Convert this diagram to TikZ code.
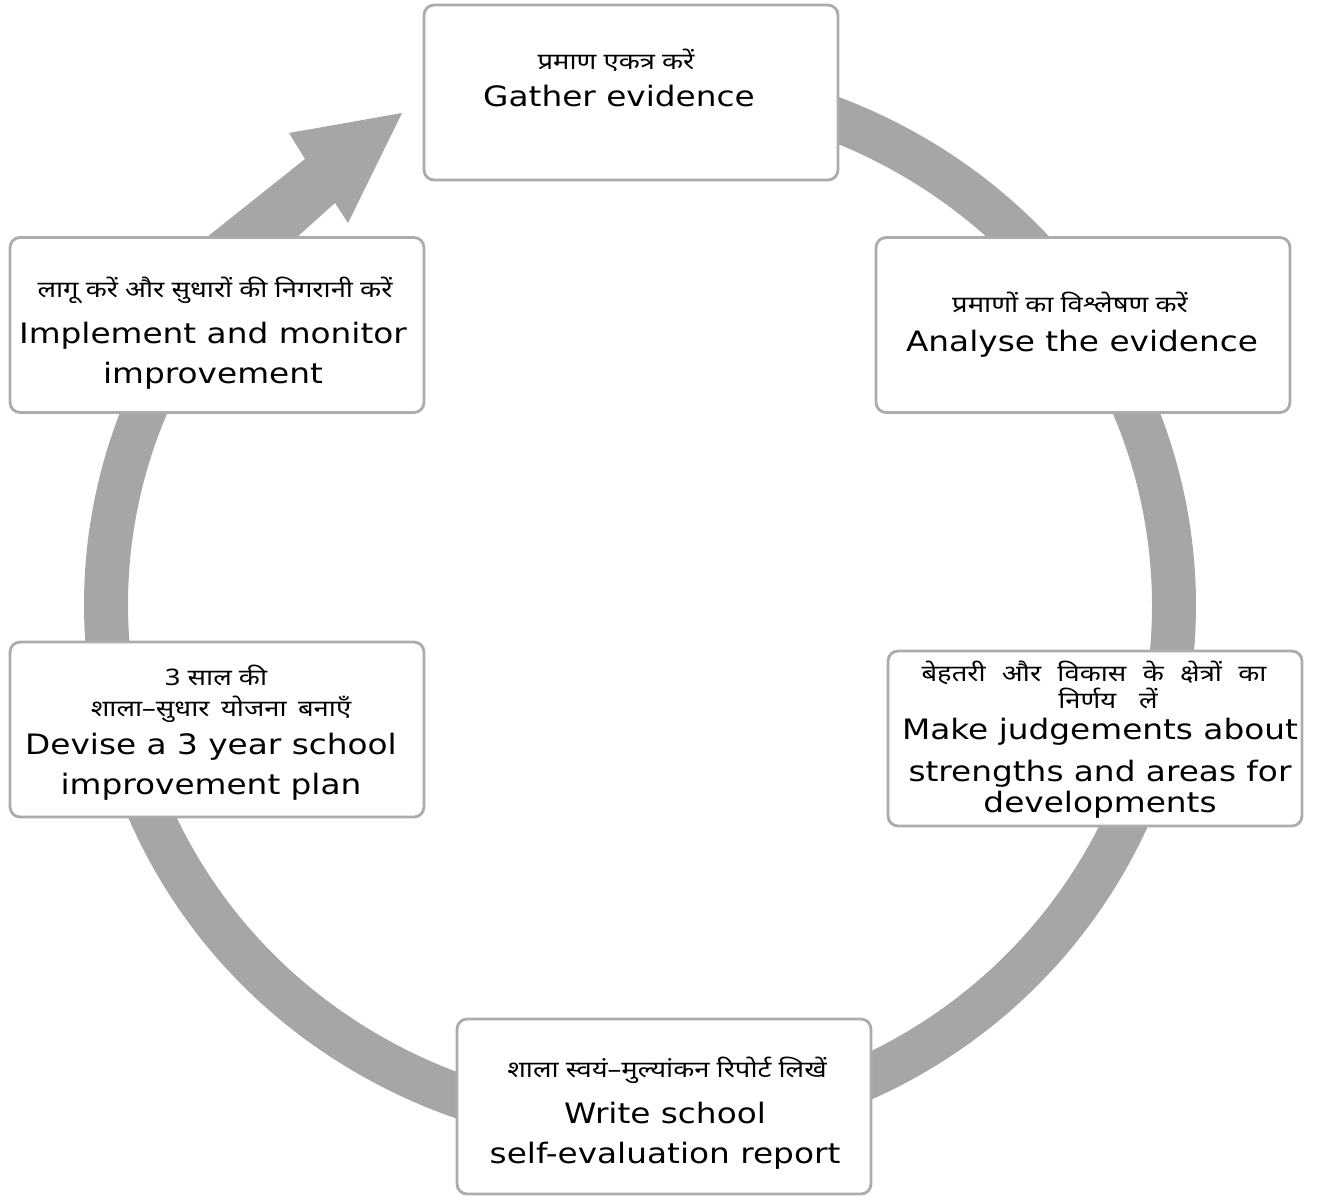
\documentclass[tikz,border=0pt]{standalone}
\usepackage{fontspec}
\setmainfont{DejaVu Sans}[FakeStretch=1.165]
\newfontfamily\hindi[Script=Devanagari,FakeStretch=1.2]{Noto Sans}
\usepackage{tikz}
\usetikzlibrary{positioning}
\definecolor{ringgray}{RGB}{166,166,166}
\definecolor{boxgray}{RGB}{172,172,172}
\tikzset{
    block/.style={
           rectangle,
           rounded corners=0.2cm,
           draw=boxgray, line width=1.6pt,
           fill=white,
           minimum width=8.28cm,
           minimum height=3.5cm,
           },
    frameless/.style={
           inner sep=0pt,
           text centered,
           },
    hin/.style={frameless, align=center, font=\hindi\fontsize{13}{16.5}\selectfont},
    eng/.style={frameless, align=center, font=\fontsize{16}{23}\selectfont},
}

\begin{document}
\begin{tikzpicture}[x=0.02cm,y=-0.02cm]
	\useasboundingbox (0,0) rectangle (1331,1196);
	\coordinate (centre) at (640,605);

	%cycle ring and arrow
	\draw[ringgray, line width=0.88cm] ([shift={(150:10.68cm and 10.44cm)}]centre) arc[start angle=150, end angle=465, x radius=10.68cm, y radius=10.44cm];
	\fill[ringgray] (128,300) -- (305,159) -- (289,133) -- (402,113) -- (348,223) -- (335,203) -- (227,300) -- cycle;

	%boxes
	\node[block] (gather) at (631,92.5) {};
	\node[block] (analyse) at (1083,325) {};
	\node[block] (judge) at (1095,738.5) {};
	\node[block] (write) at (664,1106.5) {};
	\node[block] (devise) at (217,729.5) {};
	\node[block] (implement) at (217,325) {};

	%texts
	\node[hin] (gatherhi) at (616,60) {प्रमाण एकत्र करें};
	\node[eng] (gatheren) at (619,96) {Gather evidence};

	\node[hin] (analysehi) at (1070,302) {प्रमाणों का विश्लेषण करें};
	\node[eng] (analyseen) at (1082,344) {Analyse the evidence};

	\node[hin] (judgehi) at (1094,685) {\makebox[6.9cm][s]{बेहतरी और विकास के क्षेत्रों का}\\[-1pt]
										\hspace*{0.56cm}निर्णय\quad लें};
	\node[eng] (judgeen) at (1100,768) {Make judgements about\\[1pt]
										strengths and areas for\\[-5.5pt]
										developments};

	\node[hin] (writehi) at (667,1070) {शाला स्वयं–मुल्यांकन रिपोर्ट लिखें};
	\node[eng] (writeen) at (665,1135.5) {Write school\\
										self-evaluation report};

	\node[hin] (devisehi) at (216,694) {3 साल की\\[1pt]
										\hspace*{0.2cm}शाला–सुधार\enspace योजना\enspace बनाएँ};
	\node[eng] (deviseen) at (211,766.5) {Devise a 3 year school\\
										improvement plan};

	\node[hin] (implementhi) at (215,290) {लागू करें और सुधारों की निगरानी करें};
	\node[eng] (implementen) at (213,355.5) {Implement and monitor\\
										improvement};
\end{tikzpicture}
\end{document}
